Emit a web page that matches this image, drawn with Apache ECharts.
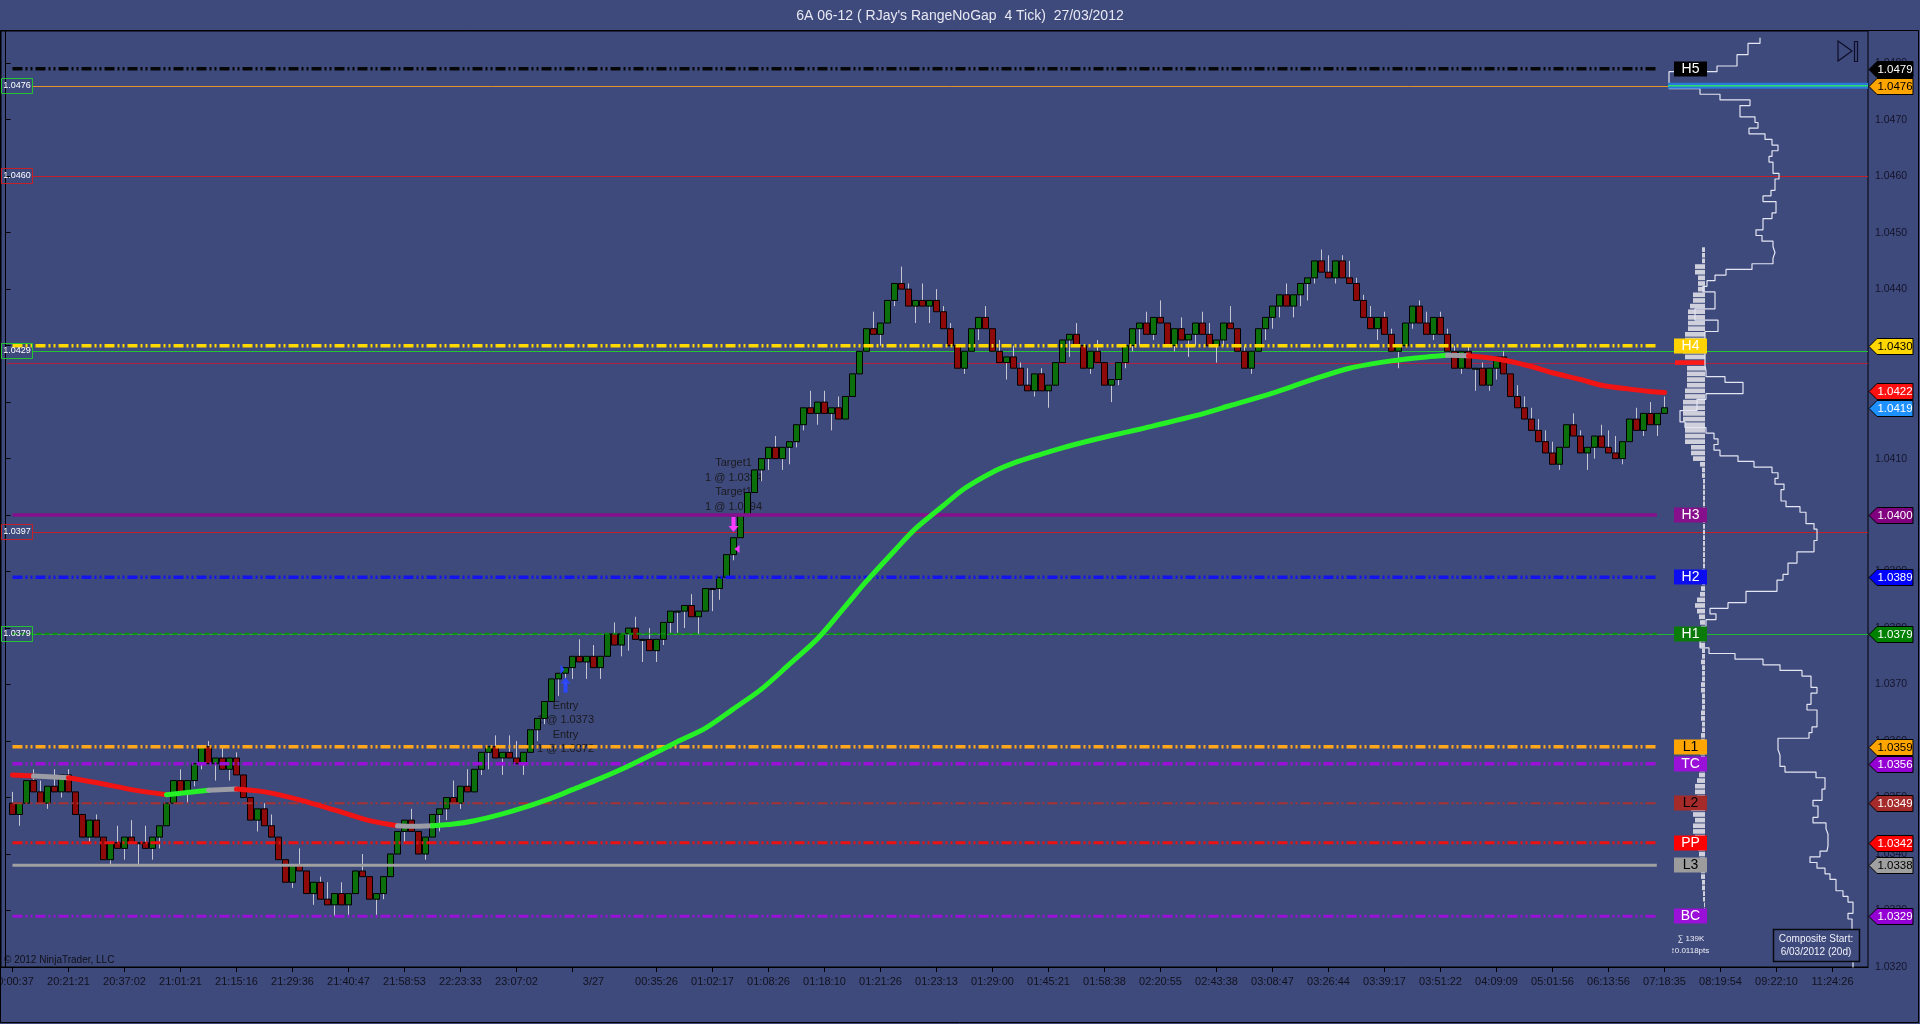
<!DOCTYPE html>
<html>
<head>
<meta charset="utf-8">
<title>6A 06-12 RangeNoGap</title>
<script src="https://cdn.jsdelivr.net/npm/echarts@6.0.0/dist/echarts.min.js"></script>
<style>
html,body{margin:0;padding:0;background:#3e4a7c;overflow:hidden;}
#chart{width:1920px;height:1024px;}
</style>
</head>
<body>
<div id="chart"></div>
<script>
// ================= DATA =================
const BASE_PRICE = 1.0300;      // bar prices below are pips above this
const PIP = 0.0001;
const BAR_RANGE_TICKS = 4;      // "4 Tick" range bars
const firstOpen = 49;
const closes = [
47,49,53,51,49,52,51,54,51,47,
43,46,43,39,42,41,43,42,42,41,
43,45,49,53,51,53,56,59,56,57,
55,57,54,50,46,48,45,43,39,35,
38,37,33,35,32,31,33,31,33,37,
36,32,33,36,40,44,46,44,40,43,
47,48,50,49,52,51,55,58,59,57,
58,57,56,58,62,64,67,71,72,73,
75,74,75,73,75,79,77,79,80,78,
78,76,78,81,83,83,84,82,83,87,
87,89,93,96,100,104,108,110,112,110,
112,113,116,119,118,120,118,119,117,121,
125,129,133,132,134,138,141,140,137,138,
137,138,136,133,130,126,129,133,135,133,
129,127,128,126,123,122,125,122,123,127,
131,132,130,126,129,127,123,124,127,130,
133,134,132,135,134,130,133,131,132,134,
132,130,131,134,133,129,126,129,133,135,
137,139,137,139,141,142,145,143,142,145,
142,141,138,135,133,135,132,129,130,134,
137,134,132,135,132,129,126,129,126,126,
123,126,128,125,121,119,117,115,113,111,
109,112,116,114,111,112,114,112,111,110,
113,117,115,118,116,118,119
];
const lastBarLow = 118, lastBarHigh = 121;   // bar still forming

const emaBars = [1,4,9,14,18,23,26,29,33,37,42,47,52,56,58,61,64,67,71,74,78,81,85,88,92,96,100,104,108,112,116,120,123,127,130,134,137,141,144,148,151,155,158,162,164,170,175,181,186,192,198,203,206,209,212,215,218,221,225,228,232,235,237];
const emaVals = [54.0,53.8,53.5,52.4,51.4,50.5,50.9,51.3,51.5,51.0,49.6,47.8,45.9,45.0,44.9,45.0,45.3,45.9,47.1,48.2,49.9,51.4,53.4,55.0,57.4,59.9,62.3,65.7,69.2,73.6,78.1,83.9,88.3,93.7,97.6,101.7,104.7,107.6,109.2,110.8,111.9,113.2,114.1,115.2,115.8,117.6,119.4,121.6,123.7,126.0,127.3,128.0,128.3,128.2,127.8,127.2,126.3,125.2,124.0,123.0,122.3,121.9,121.7];

const timeLabelBars = [1,9,17,25,33,41,49,57,65,73,84,93,101,109,117,125,133,141,149,157,165,173,181,189,197,205,213,221,229,237,245,253,261];
const timeLabels = ['20:00:37','20:21:21','20:37:02','21:01:21','21:15:16','21:29:36','21:40:47','21:58:53','22:23:33','23:07:02','3/27','00:35:26','01:02:17','01:08:26','01:18:10','01:21:26','01:23:13','01:29:00','01:45:21','01:58:38','02:20:55','02:43:38','03:08:47','03:26:44','03:39:17','03:51:22','04:09:09','05:01:56','06:13:56','07:18:35','08:19:54','09:22:10','11:24:26'];
const timeTickBars = [1,9,17,25,33,41,49,57,65,73,81,93,101,109,117,125,133,141,149,157,165,173,181,189,197,205,213,221,229,237,245,253,261];
const priceTicks = [1.0320,1.0330,1.0340,1.0350,1.0360,1.0370,1.0380,1.0390,1.0400,1.0410,1.0420,1.0430,1.0440,1.0450,1.0460,1.0470,1.0480];

const pivotNames  = ['H5','H4','H3','H2','H1','L1','TC','L2','PP','L3','BC'];
const pivotPrices = [1.0479,1.0430,1.0400,1.0389,1.0379,1.0359,1.0356,1.0349,1.0342,1.0338,1.0329];

const refLinePrices = [1.0476,1.0460,1.0429,1.0427,1.0397,1.0379];
const leftTagPrices = [1.0476,1.0460,1.0429,1.0397,1.0379];
const markerPrices  = [1.0479,1.0476,1.0430,1.0422,1.0419,1.0400,1.0389,1.0379,1.0359,1.0356,1.0349,1.0342,1.0338,1.0329];

const compositeTop = 184;   // pips above BASE_PRICE of first level, then one pip per step downward
const compositeVol = [
92,80,80,69,69,49,1,1,1,32,
52,82,72,72,87,90,81,97,104,110,
104,101,105,105,111,107,107,103,95,108,
108,104,95,95,88,94,105,107,105,105,
84,58,47,39,35,47,47,47,27,27,
50,50,37,37,37,37,37,37,38,38,
57,75,75,38,29,29,12,12,17,38,
46,50,46,52,70,86,104,110,107,116,
113,113,118,132,138,138,146,149,149,146,
146,129,129,120,120,115,109,109,78,78,
60,42,48,38,37,32,32,32,41,67,
95,112,134,143,143,149,143,143,139,149,
149,149,144,141,110,110,112,112,112,117,
148,157,157,154,154,145,150,150,145,158,
160,160,160,159,152,142,149,157,162,168,
168,175,180,185,185,180,184,184,184,185,
185,185,185,185,185
];
const sessionTop = 147;
const sessionVol = [
3,3,3,10,10,7,7,7,12,12,
15,17,17,17,17,20,20,20,22,20,
30,18,18,18,18,20,20,22,22,22,
22,20,20,20,20,14,14,12,5,3,
3,2,2,2,2,2,2,2,2,2,
2,2,2,2,2,2,2,3,3,3,
4,5,8,10,8,6,5,4,4,5,
5,3,3,4,3,3,3,4,4,3,
3,3,4,4,3,3,4,4,5,5,
4,4,5,6,8,10,10,8,12,14,
12,10,12,12,10,8,7,6,5,5,
4,4,3,3,2,2,1,1
];

const entryBar = 80, entryPrice = 1.0373;
const entryLines = ['Entry','1 @ 1.0373','Entry','1 @ 1.0372'];
const targetBar = 104, targetPrice = 1.0394;
const targetLines = ['Target1','1 @ 1.0394','Target1','1 @ 1.0394'];

// ================= STYLES =================
const BG = '#3e4a7c';
const FONT = '"Liberation Sans", Arial, sans-serif';
const DD = [10,3,2,3,2,3];
const pivotStyle = {
  H5:{c:'#060606', w:3.5, d:DD,  box:'#000000', t:'#ffffff'},
  H4:{c:'#ffd800', w:3.5, d:DD,  box:'#ffd200', t:'#ffffff'},
  H3:{c:'#860f8c', w:3.5, d:null,box:'#860f8c', t:'#ffffff'},
  H2:{c:'#1414ee', w:3.5, d:DD,  box:'#0c0cf0', t:'#ffffff'},
  H1:{c:'#0c8c0c', w:2,   d:[5,3],box:'#0a7a0a', t:'#ffffff'},
  L1:{c:'#ffa61a', w:3.5, d:DD,  box:'#ffa500', t:'#000000'},
  TC:{c:'#9a10d8', w:3.5, d:DD,  box:'#9a10d8', t:'#ffffff'},
  L2:{c:'#a83232', w:2,   d:DD,  box:'#a52a2a', t:'#000000'},
  PP:{c:'#ee1111', w:3,   d:DD,  box:'#ff0000', t:'#ffffff'},
  L3:{c:'#a0a0a0', w:3,   d:null,box:'#9c9c9c', t:'#000000'},
  BC:{c:'#9a10d8', w:3,   d:DD,  box:'#9a10d8', t:'#ffffff'}
};
const refLineColors = ['#e8922a','#c42028','#22c432','#b02040','#c42028','#22b832'];
const refLineFromTag = [true,true,true,false,true,true];
const leftTagColors = ['#22c432','#c42028','#22c432','#c42028','#22c432'];
const markerStyle = [
  ['#000000','#ffffff'],['#ffa500','#000000'],['#ffd700','#000000'],['#ff1010','#ffffff'],
  ['#1e90ff','#ffffff'],['#800080','#ffffff'],['#0000ff','#ffffff'],['#008000','#ffffff'],
  ['#ffa500','#000000'],['#9400d3','#ffffff'],['#a52a2a','#ffffff'],['#ff0000','#ffffff'],
  ['#a0a0a0','#000000'],['#9400d3','#ffffff']
];

// ================= BUILD =================
const P = p => +(BASE_PRICE + p * PIP).toFixed(5);
const candleData = closes.map((c, k) => {
  const o = k === 0 ? firstOpen : closes[k - 1];
  let lo, hi;
  if (k === closes.length - 1) { lo = lastBarLow; hi = lastBarHigh; }
  else if (c >= o) { hi = c; lo = c - BAR_RANGE_TICKS; }
  else { lo = c; hi = c + BAR_RANGE_TICKS; }
  return [k + 1, P(o), P(c), P(lo), P(hi)];
});

const chart = echarts.init(document.getElementById('chart'), null, {renderer:'canvas', width:1920, height:1024});

const series = [];

// thin full-width reference lines
series.push({
  type:'custom', xAxisIndex:0, yAxisIndex:0, z:1, silent:true, clip:false,
  data: refLinePrices.map((p,k)=>[k,p]),
  renderItem:(params, api)=>{
    const k = api.value(0), p = api.value(1), cs = params.coordSys;
    const y = Math.round(api.coord([0,p])[1]) + 0.5;
    const x0 = cs.x + (refLineFromTag[k] ? 32 : 6);
    return {type:'line', shape:{x1:x0,y1:y,x2:cs.x+cs.width,y2:y}, style:{stroke:refLineColors[k], lineWidth:1}};
  }
});

// annotations (behind candles)
series.push({
  type:'custom', xAxisIndex:0, yAxisIndex:0, z:1.5, silent:true, clip:false,
  data:[[entryBar, entryPrice, 0],[targetBar, targetPrice, 1]],
  renderItem:(params, api)=>{
    const pt = api.coord([api.value(0), api.value(1)]);
    const kind = api.value(2);
    const lines = kind === 0 ? entryLines : targetLines;
    const off = kind === 0 ? 38 : -86;
    const ch = lines.map((t,j)=>({type:'text', x:pt[0], y:pt[1]+off+j*14.5,
      style:{text:t, align:'center', verticalAlign:'middle', fill:'#1a1a1e', font:'11px '+FONT}}));
    return {type:'group', children:ch};
  }
});

// candles
series.push({
  type:'custom', name:'6A 06-12', xAxisIndex:0, yAxisIndex:0, z:2, silent:true,
  encode:{x:0, y:[1,2,3,4]},
  data: candleData,
  renderItem:(params, api)=>{
    const i = api.value(0), o = api.value(1), c = api.value(2), l = api.value(3), h = api.value(4);
    const po = api.coord([i,o]), pc = api.coord([i,c]);
    const x = Math.round(po[0] - 0.5) + 0.5;
    const yl = api.coord([i,l])[1], yh = api.coord([i,h])[1];
    const up = c >= o;
    const top = Math.min(po[1], pc[1]), bot = Math.max(po[1], pc[1]);
    return {type:'group', children:[
      {type:'line', shape:{x1:x,y1:yh,x2:x,y2:yl}, style:{stroke:'#c6c6d2', lineWidth:1}},
      {type:'rect', shape:{x:x-3, y:top, width:6, height:Math.max(bot-top,1)},
       style:{fill: up ? '#0b6f0b' : '#8e0a0a', stroke:'#000000', lineWidth:1}}
    ]};
  }
});

// pivot lines
series.push({
  type:'custom', xAxisIndex:0, yAxisIndex:0, z:3, silent:true, clip:false,
  data: pivotPrices.map((p,k)=>[k,p]),
  renderItem:(params, api)=>{
    const k = api.value(0), p = api.value(1), st = pivotStyle[pivotNames[k]];
    const a = api.coord([1.0, p]), b = api.coord([235.9, p]);
    const style = {stroke:st.c, lineWidth:st.w};
    if (st.d) style.lineDash = st.d;
    return {type:'line', shape:{x1:a[0],y1:a[1],x2:b[0],y2:b[1]}, style};
  }
});

// EMA coloured by slope
const emaPts = emaBars.map((b,k)=>[b, P(emaVals[k])]);
const slopeClass = (a,b)=>{ const s = (b[1]-a[1])/(b[0]-a[0])/PIP; return s > 0.06 ? 'up' : (s < -0.06 ? 'down' : 'flat'); };
const runs = [];
for (let k = 0; k < emaPts.length - 1; k++) {
  const cl = slopeClass(emaPts[k], emaPts[k+1]);
  if (!runs.length || runs[runs.length-1].cl !== cl) runs.push({cl, pts:[emaPts[k]]});
  runs[runs.length-1].pts.push(emaPts[k+1]);
}
const emaColor = {up:'#26f026', down:'#f01414', flat:'#9c9ca4'};
runs.forEach(r=>{
  series.push({type:'line', xAxisIndex:0, yAxisIndex:0, z:4, silent:true, data:r.pts, smooth:0.3,
    showSymbol:false, symbol:'none', lineStyle:{color:emaColor[r.cl], width:5, cap:'round'}});
});

// entry / target markers
series.push({
  type:'custom', xAxisIndex:0, yAxisIndex:0, z:5, silent:true, clip:false,
  data:[[entryBar, entryPrice, 0],[targetBar, targetPrice, 1]],
  renderItem:(params, api)=>{
    const pt = api.coord([api.value(0), api.value(1)]);
    const x = pt[0], y = pt[1];
    if (api.value(2) === 0) {
      return {type:'group', children:[
        {type:'polygon', shape:{points:[[x-5,y-3],[x-1,y+2],[x-5,y+7]]}, style:{fill:'#2a46ff'}},
        {type:'polygon', shape:{points:[[x,y+10],[x-5,y+16],[x+5,y+16]]}, style:{fill:'#2a46ff'}},
        {type:'rect', shape:{x:x-2,y:y+16,width:4,height:9}, style:{fill:'#2a46ff'}}
      ]};
    }
    return {type:'group', children:[
      {type:'rect', shape:{x:x-2,y:y-32,width:4,height:9}, style:{fill:'#ff3cff'}},
      {type:'polygon', shape:{points:[[x-5,y-23],[x+5,y-23],[x,y-17]]}, style:{fill:'#ff3cff'}},
      {type:'polygon', shape:{points:[[x+1,y],[x+6,y-4],[x+6,y+4]]}, style:{fill:'#ff3cff'}}
    ]};
  }
});

// left price tags
series.push({
  type:'custom', xAxisIndex:0, yAxisIndex:0, z:5, silent:true, clip:false,
  data: leftTagPrices.map((p,k)=>[k,p]),
  renderItem:(params, api)=>{
    const k = api.value(0), p = api.value(1), cs = params.coordSys;
    const y = Math.round(api.coord([0,p])[1]);
    return {type:'group', children:[
      {type:'rect', shape:{x:cs.x+0.5, y:y-7.5, width:31, height:15}, style:{fill:'none', stroke:leftTagColors[k], lineWidth:1}},
      {type:'text', x:cs.x+16, y:y, style:{text:p.toFixed(4), align:'center', verticalAlign:'middle', fill:'#ffffff', font:'9px '+FONT}}
    ]};
  }
});

// ---------- right-side profile grid (grid 1) ----------
const sessMax = Math.max(...sessionVol);
series.push({
  type:'custom', xAxisIndex:1, yAxisIndex:1, z:2, silent:true, clip:false,
  data: sessionVol.map((v,k)=>[v, P(sessionTop - k)]),
  renderItem:(params, api)=>{
    const v = api.value(0), p = api.value(1);
    const a = api.coord([105 - v, p + PIP/2]), b = api.coord([105, p - PIP/2]);
    const isPoc = v === sessMax;
    return {type:'rect', shape:{x:a[0], y:a[1] + 0.5, width:b[0]-a[0], height:Math.max(b[1]-a[1]-1, 1)},
      style:{fill: isPoc ? '#ff1a1a' : '#cfd0dc'}};
  }
});

const compPts = [];
compositeVol.forEach((v,k)=>{
  const p = compositeTop - k;
  compPts.push([68 + v, P(p + 0.5)]);
  compPts.push([68 + v, P(p - 0.5)]);
});
series.push({type:'line', xAxisIndex:1, yAxisIndex:1, z:3, silent:true, data:compPts, showSymbol:false, symbol:'none',
  lineStyle:{color:'#e4e6f4', width:1.2}});

series.push({
  type:'custom', xAxisIndex:1, yAxisIndex:1, z:3.5, silent:true, clip:false,
  data:[[0, refLinePrices[0]]],
  renderItem:(params, api)=>{
    const a = api.coord([68, api.value(1)]), b = api.coord([268, api.value(1)]);
    return {type:'group', children:[
      {type:'line', shape:{x1:a[0],y1:a[1],x2:b[0],y2:b[1]}, style:{stroke:'#2a78dc', lineWidth:6}},
      {type:'line', shape:{x1:a[0],y1:a[1],x2:b[0],y2:b[1]}, style:{stroke:'#2ede6a', lineWidth:1.5}}
    ]};
  }
});

series.push({
  type:'custom', xAxisIndex:1, yAxisIndex:1, z:6, silent:true, clip:false,
  data: pivotPrices.map((p,k)=>[k,p]),
  renderItem:(params, api)=>{
    const k = api.value(0), p = api.value(1), st = pivotStyle[pivotNames[k]];
    const a = api.coord([74, p]), b = api.coord([107, p]);
    const y = Math.round(a[1]);
    return {type:'group', children:[
      {type:'rect', shape:{x:a[0], y:y-7.5, width:b[0]-a[0], height:15}, style:{fill:st.box}},
      {type:'text', x:(a[0]+b[0])/2, y:y+0.5, style:{text:pivotNames[k], align:'center', verticalAlign:'middle', fill:st.t, font:'14px '+FONT}}
    ]};
  }
});

series.push({
  type:'custom', xAxisIndex:1, yAxisIndex:1, z:7, silent:true, clip:false,
  data: markerPrices.map((p,k)=>[k,p]),
  renderItem:(params, api)=>{
    const k = api.value(0), p = api.value(1);
    const pt = api.coord([268, p]);
    const x = pt[0], y = Math.round(pt[1]) + 0.5;
    return {type:'group', children:[
      {type:'polygon', shape:{points:[[x+1,y],[x+9,y-8],[x+45,y-8],[x+45,y+8],[x+9,y+8]]},
        style:{fill:markerStyle[k][0], stroke:'#000000', lineWidth:1}},
      {type:'text', x:x+27, y:y, style:{text:p.toFixed(4), align:'center', verticalAlign:'middle', fill:markerStyle[k][1], font:'11.5px '+FONT}}
    ]};
  }
});

const option = {
  backgroundColor: BG,
  animation: false,
  grid: [
    {left:1, right:52, top:31, bottom:57, show:true, borderColor:'#000000', borderWidth:1, backgroundColor:'transparent', containLabel:false, outerBoundsMode:'none'},
    {left:1600, right:52, top:31, bottom:57, show:false, containLabel:false, outerBoundsMode:'none'}
  ],
  xAxis: [
    {type:'value', gridIndex:0, min:-0.643, max:266.07, splitLine:{show:false},
     axisLine:{show:true, lineStyle:{color:'#000000', width:1}},
     axisTick:{show:true, length:5, lineStyle:{color:'#000000'}, customValues: timeTickBars},
     axisLabel:{show:true, customValues: timeLabelBars, color:'#12121e', fontSize:11, fontFamily:'Liberation Sans', margin:9,
       formatter:(v)=>{ const k = timeLabelBars.indexOf(Math.round(v)); return k >= 0 ? timeLabels[k] : ''; }}},
    {type:'value', gridIndex:1, min:0, max:268, show:false}
  ],
  yAxis: [
    {type:'value', gridIndex:0, position:'right', min:1.0320, max:1.04857, interval:0.0010, scale:false, splitLine:{show:false},
     axisLine:{show:true, lineStyle:{color:'#000000', width:1}},
     axisTick:{show:true, length:5, lineStyle:{color:'#000000'}, customValues: priceTicks},
     axisLabel:{show:true, customValues: priceTicks, color:'#14142a', fontSize:10.5, fontFamily:'Liberation Sans', margin:7,
       formatter:(v)=>v.toFixed(4)}},
    {type:'value', gridIndex:1, min:1.0320, max:1.04857, show:false}
  ],
  series,
  graphic: [
    {type:'rect', z:100, silent:true, shape:{x:0.5, y:30.5, width:1918, height:992}, style:{fill:'none', stroke:'#000000', lineWidth:1}},
    {type:'text', z:100, silent:true, x:960, y:16, style:{text:"6A 06-12 ( RJay's RangeNoGap  4 Tick)  27/03/2012", align:'center', verticalAlign:'middle', fill:'#e8e8f2', font:'14px '+FONT}},
    {type:'text', z:100, silent:true, x:4, y:960, style:{text:'\u00a9 2012 NinjaTrader, LLC', align:'left', verticalAlign:'middle', fill:'#101018', font:'10px '+FONT}},
    {type:'polygon', z:100, silent:true, shape:{points:[[1838,41],[1852,51],[1838,61]]}, style:{fill:'none', stroke:'#0e0e28', lineWidth:1.2}},
    {type:'rect', z:100, silent:true, shape:{x:1854.5, y:41.5, width:3, height:20}, style:{fill:'none', stroke:'#0e0e28', lineWidth:1.2}},
    {type:'rect', z:100, silent:true, shape:{x:1773.5, y:929.5, width:86, height:32}, style:{fill:BG, stroke:'#08080f', lineWidth:1.5}},
    {type:'text', z:101, silent:true, x:1816, y:939, style:{text:'Composite Start:', align:'center', verticalAlign:'middle', fill:'#f0f0f8', font:'10px '+FONT}},
    {type:'text', z:101, silent:true, x:1816, y:952, style:{text:'6/03/2012 (20d)', align:'center', verticalAlign:'middle', fill:'#f0f0f8', font:'10px '+FONT}},
    {type:'text', z:101, silent:true, x:1691, y:939, style:{text:'\u2211 139K', align:'center', verticalAlign:'middle', fill:'#f0f0f8', font:'8px '+FONT}},
    {type:'text', z:101, silent:true, x:1690, y:951, style:{text:'\u21950.0118pts', align:'center', verticalAlign:'middle', fill:'#f0f0f8', font:'8px '+FONT}}
  ]
};
chart.setOption(option);
</script>
</body>
</html>
